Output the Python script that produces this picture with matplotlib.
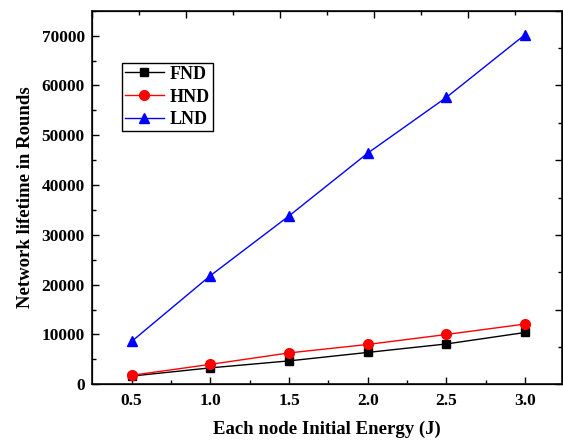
import matplotlib
matplotlib.use("Agg")
import matplotlib.pyplot as plt
import numpy as np

# initial energy per node (J) and network lifetime in rounds
energy = [0.5, 1.0, 1.5, 2.0, 2.5, 3.0]
fnd = [1650, 3300, 4700, 6400, 8100, 10400]
hnd = [1800, 4000, 6300, 8000, 10000, 12100]
lnd = [8600, 21800, 33800, 46400, 57600, 70200]

plt.rcParams['font.family'] = ['Liberation Serif', 'DejaVu Serif']
plt.rcParams['font.weight'] = 'bold'

fig = plt.figure(figsize=(5.63, 4.43), dpi=100)
ax = fig.add_axes([0.1639, 0.1325, 0.8338, 0.8433])

ax.plot(energy, fnd, color='black', lw=1.0, marker='s', ms=6, label='FND')
ax.plot(energy, hnd, color='red', lw=1.0, marker='o', ms=7, label='HND')
ax.plot(energy, lnd, color='blue', lw=1.0, marker='^', ms=7.5, label='LND')

ax.set_xlim(0.25, 3.233)
ax.set_ylim(0, 75000)
ax.set_xticks(np.arange(0.5, 3.01, 0.5))
ax.set_xticks(np.arange(0.75, 3.01, 0.5), minor=True)
ax.set_yticks(np.arange(0, 70001, 10000))
ax.set_yticks(np.arange(5000, 75001, 10000), minor=True)
ax.tick_params(which='both', direction='in', width=1.0, labelsize=12.5)
ax.tick_params(which='major', length=5)
ax.tick_params(which='minor', length=3)
ax.tick_params(axis='x', pad=6)
ax.tick_params(axis='y', pad=5.5)
for lab in ax.get_xticklabels() + ax.get_yticklabels():
    lab.set_fontweight('bold')

for sp in ax.spines.values():
    sp.set_linewidth(1.3)
    sp.set_color('#222222')

# top and right frame ticks split into five equal divisions
top = ax.twiny()
top.set_xlim(0, 1)
top.set_xticks(np.arange(0, 1.01, 0.2))
top.set_xticks(np.arange(0.1, 1.0, 0.2), minor=True)
top.tick_params(which='both', direction='in', labeltop=False, width=1.0)
top.tick_params(which='major', length=5)
top.tick_params(which='minor', length=3)
right = ax.twinx()
right.set_ylim(0, 1)
right.set_yticks(np.arange(0, 1.01, 0.2))
right.set_yticks(np.arange(0.1, 1.0, 0.2), minor=True)
right.tick_params(which='both', direction='in', labelright=False, width=1.0)
right.tick_params(which='major', length=5)
right.tick_params(which='minor', length=3)

ax.set_xlabel('Each node Initial Energy (J)', fontsize=13.5, fontweight='bold', labelpad=9)
ax.set_ylabel('Network lifetime in Rounds', fontsize=13.5, fontweight='bold', labelpad=5)

leg = ax.legend(loc='upper left', bbox_to_anchor=(0.063, 0.86), fontsize=13,
                frameon=True, fancybox=False, edgecolor='black', framealpha=1,
                handlelength=2.2, handletextpad=0.3, borderpad=0.15,
                labelspacing=0.32, borderaxespad=0)
leg.get_frame().set_linewidth(1.0)
for t in leg.get_texts():
    t.set_fontweight('bold')

fig.savefig('out.png', dpi=100)
